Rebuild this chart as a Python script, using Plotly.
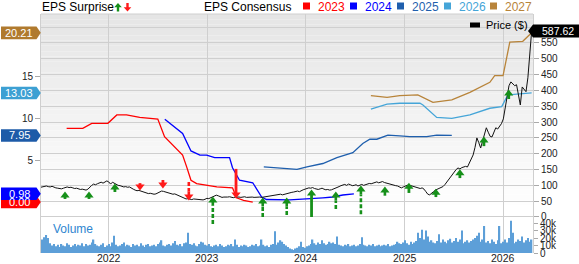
import numpy as np
import pandas as pd
import plotly.graph_objects as go

# ---------------- data ----------------
price_start = "2021-04-23"   # weekly closes
price = [94, 95, 96, 98, 96, 95, 97, 94, 92, 91, 90,
         89, 91, 94, 95, 93, 94,
         92, 90, 91, 89, 87, 88, 86, 85,
         88, 95, 100, 104, 102, 105,
         108, 110, 107, 112, 114, 111,
         104, 110, 106, 102,
         100, 99, 97, 95, 96, 94, 95,
         90, 88, 85, 83, 84, 82,
         80, 78, 76, 74, 75, 73, 72,
         73, 76, 80, 82, 81,
         79, 77, 76, 74, 72, 73, 70,
         67, 64, 62, 60, 57, 58,
         56, 55, 57, 56, 55, 54, 53, 54,
         56, 59, 58, 61, 63, 65,
         69, 67, 64, 62, 63, 62,
         63, 64, 62, 61, 63, 64, 63, 62, 63, 64, 62, 63,
         64, 63, 62, 63, 64, 63, 62, 63, 62, 64,
         65, 66, 67, 68, 70, 71, 72, 70, 72, 74,
         75, 76, 78, 79, 80, 82, 80, 84, 86, 88,
         90, 92, 91, 93, 90, 88, 87,
         89, 91, 88, 86, 87, 85, 86, 88,
         90, 93, 96, 99, 101, 103, 100, 104, 102, 99,
         100, 102, 98, 101, 103, 100, 102, 104, 106, 105,
         107, 109, 111, 108, 110, 112, 109, 107, 105, 104,
         102, 101, 99, 98, 95, 92, 95, 98, 100, 101,
         99, 97, 95, 93, 92, 90, 92, 88, 80, 72, 70,
         74, 80, 85, 88, 90, 92,
         96, 102, 110, 118, 127, 135, 142, 150,
         155, 152, 156, 158, 160,
         158, 170, 185,
         196, 220, 250, 235, 218, 240, 260, 282, 268, 255, 253, 268, 282, 278, 288, 295, 310,
         348, 390, 415, 427, 422, 415, 418, 380, 354, 411, 405, 396, 440, 528, 587.62]

volume_k = [16, 18, 21, 24, 20, 13, 10, 12, 9, 11,
            8, 12, 10, 9, 13, 11, 8, 10, 12, 9,
            11, 10, 13, 9, 12, 10, 11, 14, 18, 12,
            10, 9, 11, 13, 8, 10, 12, 9, 14, 23,
            11, 9, 10, 12, 14, 9, 11, 10, 8, 12,
            10, 11, 9, 13, 10, 8, 11, 12, 9, 10,
            11, 9, 12, 14, 17, 10, 9, 11, 12, 10,
            13, 16, 11, 10, 12, 9, 13, 14, 27, 12,
            11, 13, 10, 9, 12, 15, 14, 11, 10, 12,
            9, 8, 10, 11, 9, 12, 10, 8, 9, 11,
            10, 12, 9, 18, 11, 8, 10, 9, 11, 10,
            8, 9, 11, 10, 12, 9, 10, 18, 11, 9,
            10, 8, 11, 12, 29, 11, 14, 17, 15, 12,
            10, 8, 6, 5, 4, 6, 7, 9, 15, 8,
            7, 9, 10, 12, 18, 13, 11, 14, 12, 17,
            13, 11, 12, 15, 13, 14, 12, 22, 11, 10,
            9, 11, 10, 12, 9, 10, 11, 9, 10, 12,
            21, 11, 10, 9, 11, 10, 12, 9, 10, 11,
            9, 10, 11, 10, 12, 9, 10, 11, 12, 15,
            13, 12, 14, 17, 13, 11, 15, 12, 14, 16,
            27, 20, 31, 18, 30, 22, 15, 17, 14, 13,
            16, 25, 14, 18, 15, 13, 17, 19, 14, 16,
            20, 15, 18, 30, 13, 15, 17, 14, 16, 18,
            20, 23, 27, 15, 18, 36, 14, 16, 13, 18,
            15, 12, 17, 36, 13, 15, 18, 14, 20, 43,
            27, 13, 15, 18, 16, 22, 14, 17, 20, 15, 18]

eps_2023_dates = ["2021-07-28", "2021-09-26", "2021-10-29", "2021-12-28", "2022-01-30", "2022-03-07",
                  "2022-04-25", "2022-05-20", "2022-07-01", "2022-07-26", "2022-09-01", "2022-10-01",
                  "2022-10-16", "2022-11-01", "2022-11-22", "2022-12-29", "2023-02-05", "2023-04-04",
                  "2023-04-19", "2023-05-15", "2023-06-18"]
eps_2023 = [8.8, 8.8, 9.4, 9.4, 10.4, 10.4, 10.1, 10.0, 9.9, 7.8, 6.6, 5.6, 4.2, 2.6, 2.2, 2.0,
            1.8, 1.7, 0.5, 0.2, 0.0]

eps_2024_dates = ["2022-07-27", "2022-10-01", "2022-11-01", "2022-12-04", "2022-12-29", "2023-01-28",
                  "2023-03-24", "2023-04-04", "2023-04-30", "2023-06-18", "2023-07-21", "2023-08-08",
                  "2023-11-02", "2024-01-15", "2024-03-04", "2024-04-10", "2024-05-17", "2024-06-27"]
eps_2024 = [9.9, 8.2, 6.1, 5.6, 5.6, 5.3, 5.3, 4.1, 2.6, 2.3, 0.6, 0.3, 0.25, 0.36, 0.5, 0.6, 0.84, 0.98]

eps_2025_dates = ["2023-07-29", "2023-11-29", "2024-01-05", "2024-03-04", "2024-04-25", "2024-06-23",
                  "2024-07-30", "2024-08-25", "2024-09-20", "2024-10-31", "2024-12-14", "2025-01-20",
                  "2025-03-24", "2025-04-30", "2025-06-25"]
eps_2025 = [4.2, 3.9, 4.2, 4.6, 5.3, 5.9, 7.0, 7.5, 7.5, 8.0, 7.9, 7.8, 7.8, 8.0, 7.95]

eps_2026_dates = ["2024-08-29", "2024-10-28", "2024-12-14", "2025-02-27", "2025-03-10", "2025-04-30",
                  "2025-06-25", "2025-08-31", "2025-11-13", "2025-12-27", "2026-01-19", "2026-03-04",
                  "2026-04-17"]
eps_2026 = [11.1, 11.7, 11.8, 11.8, 11.6, 10.1, 10.0, 10.4, 11.2, 11.4, 12.8, 12.9, 13.03]

eps_2027_dates = ["2024-08-29", "2024-10-28", "2024-12-14", "2025-02-19", "2025-04-16", "2025-06-25",
                  "2025-08-31", "2025-11-13", "2025-12-01", "2026-01-01", "2026-01-26", "2026-03-15",
                  "2026-04-17"]
eps_2027 = [12.7, 12.5, 12.7, 12.8, 11.9, 12.2, 13.1, 14.3, 15.1, 15.1, 19.1, 19.2, 20.21]

surprise_dates = ["2021-07-22", "2021-10-19", "2022-01-23", "2022-04-26", "2022-07-20", "2022-10-24",
                  "2023-01-21", "2023-04-17", "2023-07-25", "2023-10-22", "2024-01-22", "2024-04-21",
                  "2024-07-23", "2024-10-20", "2025-01-17", "2025-04-27", "2025-07-25", "2025-10-22",
                  "2026-01-22"]
surprise_sign = [1, 1, 1, -1, -1, -1, 1, -1, 1, 1, 1, 1, 1, 1, 1, 1, 1, 1, 1]
surprise_head = [79, 79, 104, 85, 92, 54, 63, 60, 60, 60, 85, 79, 98, 95, 107, 88, 149, 253, 401]
surprise_tail = [57, 57, 79, 107, 117, 111, -22, 152, 0, 6, 0, 25, 9, 70, 76, 63, 123, 224, 373]

series_years = ["2023", "2024", "2025", "2026", "2027"]
year_ticks = ["2022", "2023", "2024", "2025", "2026"]
last_price = 587.62

# ---------------- styles / layout ----------------
W, H = 579, 264
ML, MR, MT, MB = 41, 46, 14, 11
PW, PH = W - ML - MR, H - MT - MB
EPS_RANGE = [-6.09, 22.46]
PRICE_RANGE = [-113.8, 641.6]
VOL_RANGE = [0, 48]
VOL_TOP = 36 / PH
X_RANGE = ["2021-04-24", "2026-04-22"]
FONT = "Liberation Sans, Arial, sans-serif"
COLORS = {"2023": "#ff0000", "2024": "#0000ff", "2025": "#1f5fad", "2026": "#45a5d8", "2027": "#b8843a"}
LABEL_COLORS = {"2023": "#ff0000", "2024": "#0000ff", "2025": "#1d5ba8", "2026": "#3da0d3", "2027": "#b07a2e"}
GREEN, RED = "#16901a", "#ff1a1a"
STEM_DASHED = [False, False, False, False, False, True, True, False, True, True, False, True, True,
               True, False, False, False, False, False]
GRID = "#cfcfcf"


def pxx(x):
    return (x - ML) / PW


def pxy(y):
    return (MT + PH - y) / PH


def eps_px(v):
    return MT + (EPS_RANGE[1] - v) / (EPS_RANGE[1] - EPS_RANGE[0]) * PH


def price_px(v):
    return MT + (PRICE_RANGE[1] - v) / (PRICE_RANGE[1] - PRICE_RANGE[0]) * PH


def date_paper(d):
    t0, t1 = pd.Timestamp(X_RANGE[0]), pd.Timestamp(X_RANGE[1])
    return (pd.Timestamp(d) - t0) / (t1 - t0)


def path(points):
    return "M " + " L ".join(f"{pxx(x):.5f},{pxy(y):.5f}" for x, y in points) + " Z"


dates = pd.date_range(price_start, periods=len(price), freq="7D")
vdates = pd.date_range(price_start, periods=len(volume_k), freq="7D")

fig = go.Figure()

# volume
fig.add_trace(go.Bar(x=vdates, y=volume_k, yaxis="y3", marker=dict(color="#5d9fd8", line=dict(width=0)),
                     showlegend=False, hoverinfo="skip"))

# EPS consensus lines
eps_series = {"2023": (eps_2023_dates, eps_2023), "2024": (eps_2024_dates, eps_2024),
              "2025": (eps_2025_dates, eps_2025), "2026": (eps_2026_dates, eps_2026),
              "2027": (eps_2027_dates, eps_2027)}
for yr in series_years:
    d, v = eps_series[yr]
    fig.add_trace(go.Scatter(x=pd.to_datetime(d), y=v, mode="lines", yaxis="y",
                             line=dict(color=COLORS[yr], width=1.3), showlegend=False, hoverinfo="skip"))

# price
fig.add_trace(go.Scatter(x=dates, y=price, mode="lines", yaxis="y2",
                         line=dict(color="#111111", width=1), showlegend=False, hoverinfo="skip"))

# surprise arrows
px_per_price = PH / (PRICE_RANGE[1] - PRICE_RANGE[0])
for d, s, hd, tl, dashed in zip(surprise_dates, surprise_sign, surprise_head, surprise_tail, STEM_DASHED):
    col = GREEN if s > 0 else RED
    ctr = hd - s * 3.5 / px_per_price
    dd = pd.to_datetime(d)
    solid_end = ctr - s * 5 / px_per_price
    if dashed:
        fig.add_trace(go.Scatter(x=[dd, dd], y=[tl, solid_end], mode="lines", yaxis="y2",
                                 line=dict(color=col, width=2.6, dash="4px,2px"),
                                 showlegend=False, hoverinfo="skip"))
        fig.add_trace(go.Scatter(x=[dd, dd], y=[solid_end, ctr], mode="lines", yaxis="y2",
                                 line=dict(color=col, width=2.6), showlegend=False, hoverinfo="skip"))
    else:
        fig.add_trace(go.Scatter(x=[dd, dd], y=[tl, ctr], mode="lines", yaxis="y2",
                                 line=dict(color=col, width=2.8), showlegend=False, hoverinfo="skip"))
    fig.add_trace(go.Scatter(x=[dd], y=[ctr], mode="markers", yaxis="y2",
                             marker=dict(symbol="triangle-up" if s > 0 else "triangle-down", size=8,
                                         color=col, line=dict(width=0)),
                             showlegend=False, hoverinfo="skip"))

shapes = []
# gradient background of price panel
n = 36
g_top, g_bot = MT, 205
for k in range(n):
    y0 = g_top + k * (g_bot - g_top) / n
    y1 = g_top + (k + 1) * (g_bot - g_top) / n
    c = int(229 + (255 - 229) * (k + 0.5) / n)
    shapes.append(dict(type="rect", xref="paper", yref="paper", x0=0, x1=1, y0=pxy(y1), y1=pxy(y0),
                       fillcolor=f"rgb({c},{c},{c})", line=dict(width=0), layer="below"))
# top border
shapes.append(dict(type="line", xref="paper", yref="paper", x0=0, x1=1, y0=1, y1=1,
                   line=dict(color=GRID, width=1)))

annotations = []
# left EPS value labels
last_vals = {yr: eps_series[yr][1][-1] for yr in series_years}
for yr in ["2027", "2026", "2025", "2023", "2024"]:
    v = last_vals[yr]
    yc = eps_px(v)
    shapes.append(dict(type="path", xref="paper", yref="paper",
                       path=path([(1, yc - 6.3), (36.5, yc - 6.3), (40.8, yc), (36.5, yc + 6.3), (1, yc + 6.3)]),
                       fillcolor=LABEL_COLORS[yr], line=dict(width=0)))
    annotations.append(dict(xref="paper", yref="paper", x=pxx(19), y=pxy(yc), text=f"{v:.2f}",
                            showarrow=False, xanchor="center", yanchor="middle",
                            font=dict(family=FONT, size=11, color="white")))

# right price label
yc = price_px(last_price)
shapes.append(dict(type="path", xref="paper", yref="paper",
                   path=path([(528, yc), (533, yc - 6.5), (579, yc - 6.5), (579, yc + 6.5), (533, yc + 6.5)]),
                   fillcolor="#000000", line=dict(width=0)))
annotations.append(dict(xref="paper", yref="paper", x=pxx(558), y=pxy(yc), text=f"{last_price:.2f}",
                        showarrow=False, xanchor="center", yanchor="middle",
                        font=dict(family=FONT, size=10.5, color="white")))

# year labels under the x axis
for y in year_ticks:
    annotations.append(dict(xref="paper", yref="paper", x=date_paper(f"{y}-01-01"), y=pxy(258.3),
                            text=y, showarrow=False, xanchor="center", yanchor="middle",
                            font=dict(family=FONT, size=10.5, color="#222")))

# top legend
annotations.append(dict(xref="paper", yref="paper", x=pxx(40), y=pxy(7), text="EPS Surprise",
                        showarrow=False, xanchor="left", yanchor="middle",
                        font=dict(family=FONT, size=12, color="#000")))
shapes.append(dict(type="path", xref="paper", yref="paper", fillcolor=GREEN, line=dict(width=0),
                   path=path([(118, 3), (121.8, 7.3), (119.2, 7.3), (119.2, 11.5), (116.8, 11.5),
                              (116.8, 7.3), (114.2, 7.3)])))
shapes.append(dict(type="path", xref="paper", yref="paper", fillcolor=RED, line=dict(width=0),
                   path=path([(127.5, 11.5), (131.3, 7.2), (128.7, 7.2), (128.7, 3), (126.3, 3),
                              (126.3, 7.2), (123.7, 7.2)])))
annotations.append(dict(xref="paper", yref="paper", x=pxx(202), y=pxy(7), text="EPS Consensus",
                        showarrow=False, xanchor="left", yanchor="middle",
                        font=dict(family=FONT, size=12, color="#000")))
leg_sq_x = [303, 350, 397, 444, 490]
for yr, sx in zip(series_years, leg_sq_x):
    shapes.append(dict(type="rect", xref="paper", yref="paper", x0=pxx(sx), x1=pxx(sx + 7),
                       y0=pxy(9.5), y1=pxy(2.5), fillcolor=COLORS[yr], line=dict(width=0)))
    annotations.append(dict(xref="paper", yref="paper", x=pxx(sx + 13), y=pxy(7), text=yr,
                            showarrow=False, xanchor="left", yanchor="middle",
                            font=dict(family=FONT, size=12, color=COLORS[yr])))
shapes.append(dict(type="rect", xref="paper", yref="paper", x0=pxx(470), x1=pxx(480),
                   y0=pxy(27.5), y1=pxy(22.5), fillcolor="#000", line=dict(width=0)))
annotations.append(dict(xref="paper", yref="paper", x=pxx(484), y=pxy(25), text="Price ($)",
                        showarrow=False, xanchor="left", yanchor="middle",
                        font=dict(family=FONT, size=11, color="#000")))
annotations.append(dict(xref="paper", yref="paper", x=pxx(51), y=pxy(229), text="Volume",
                        showarrow=False, xanchor="left", yanchor="middle",
                        font=dict(family=FONT, size=12, color="#2f86d0")))

price_ticks = list(range(0, 601, 50))
fig.update_layout(
    width=W, height=H, margin=dict(l=ML, r=MR, t=MT, b=MB, autoexpand=False),
    paper_bgcolor="white", plot_bgcolor="rgba(0,0,0,0)",
    font=dict(family=FONT, size=10, color="#222"),
    showlegend=False, hovermode=False, bargap=0.3,
    xaxis=dict(type="date", range=X_RANGE,
               tickvals=[f"{y}-01-01" for y in year_ticks], showticklabels=False,
               showgrid=True, gridcolor=GRID, gridwidth=1, ticks="", zeroline=False,
               showline=False, anchor="y"),
    yaxis=dict(range=EPS_RANGE, tickvals=[5, 10, 15], ticks="outside", ticklen=5, tickcolor="#aaa",
               showgrid=False, zeroline=False, showline=True, linecolor=GRID, linewidth=1,
               tickfont=dict(size=10, color="#222"), domain=[0, 1]),
    yaxis2=dict(range=PRICE_RANGE, overlaying="y", side="right", tickvals=price_ticks,
                ticktext=[str(t) if t < 600 else "" for t in price_ticks],
                ticks="outside", ticklen=5, tickcolor="#aaa", showgrid=True, gridcolor=GRID,
                gridwidth=1, zeroline=False, showline=True, linecolor=GRID, linewidth=1,
                tickfont=dict(size=10, color="#222")),
    yaxis3=dict(range=VOL_RANGE, domain=[0, VOL_TOP], side="right", anchor="x",
                tickvals=[0, 10, 20, 30, 40], ticktext=["0", "10k", "20k", "30k", "40k"],
                ticks="outside", ticklen=4, tickcolor="#aaa", showgrid=False, zeroline=False,
                showline=False, tickfont=dict(size=10, color="#222")),
    shapes=shapes, annotations=annotations,
)

fig.write_html("out.html")
